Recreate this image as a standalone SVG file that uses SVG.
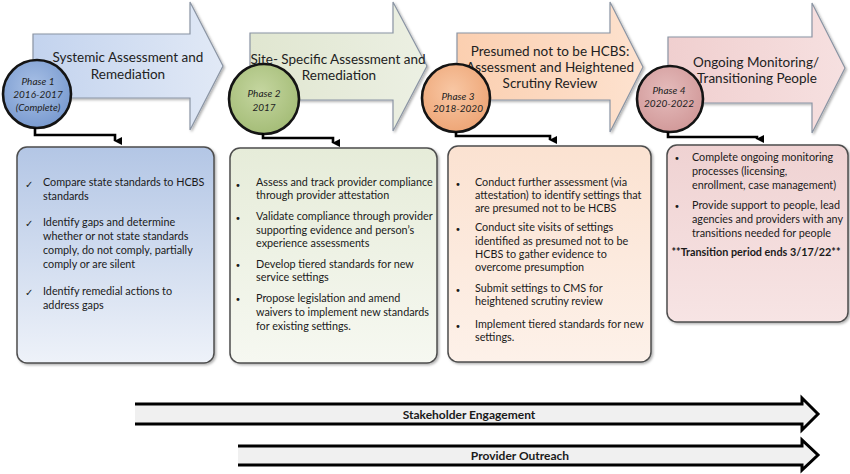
<svg xmlns="http://www.w3.org/2000/svg" width="850" height="474" viewBox="0 0 850 474">
<defs>
<linearGradient id="ga1" x1="0" y1="0" x2="1" y2="0"><stop offset="0" stop-color="#c3d3ee"/><stop offset="1" stop-color="#e1e9f6"/></linearGradient>
<linearGradient id="ga2" x1="0" y1="0" x2="1" y2="0"><stop offset="0" stop-color="#e0e6d0"/><stop offset="1" stop-color="#ecf0e3"/></linearGradient>
<linearGradient id="ga3" x1="0" y1="0" x2="1" y2="0"><stop offset="0" stop-color="#fbcfb0"/><stop offset="1" stop-color="#fde2cf"/></linearGradient>
<linearGradient id="ga4" x1="0" y1="0" x2="1" y2="0"><stop offset="0" stop-color="#f0cfcf"/><stop offset="1" stop-color="#f6e0e0"/></linearGradient>
<linearGradient id="gb1" x1="0" y1="0" x2="0" y2="1"><stop offset="0" stop-color="#b3c6e5"/><stop offset="1" stop-color="#eef2f9"/></linearGradient>
<linearGradient id="gb2" x1="0" y1="0" x2="0" y2="1"><stop offset="0" stop-color="#e6ecd9"/><stop offset="1" stop-color="#f6f8f1"/></linearGradient>
<linearGradient id="gb3" x1="0" y1="0" x2="0" y2="1"><stop offset="0" stop-color="#fbe2d1"/><stop offset="1" stop-color="#fdf1e9"/></linearGradient>
<linearGradient id="gb4" x1="0" y1="0" x2="0" y2="1"><stop offset="0" stop-color="#efd2d2"/><stop offset="1" stop-color="#f7e4e4"/></linearGradient>
<radialGradient id="gc1" cx="0.45" cy="0.4" r="0.6"><stop offset="0" stop-color="#a9c1e6"/><stop offset="1" stop-color="#7a9bd0"/></radialGradient>
<radialGradient id="gc2" cx="0.45" cy="0.4" r="0.6"><stop offset="0" stop-color="#c5d6a0"/><stop offset="1" stop-color="#a5bd78"/></radialGradient>
<radialGradient id="gc3" cx="0.45" cy="0.4" r="0.6"><stop offset="0" stop-color="#f8c7a4"/><stop offset="1" stop-color="#eea677"/></radialGradient>
<radialGradient id="gc4" cx="0.45" cy="0.4" r="0.6"><stop offset="0" stop-color="#e5bcbc"/><stop offset="1" stop-color="#d29a9a"/></radialGradient>
<filter id="sh" x="-5%" y="-5%" width="115%" height="115%"><feDropShadow dx="1.5" dy="1.5" stdDeviation="1.2" flood-color="#000" flood-opacity="0.3"/></filter>
<marker id="ah" markerWidth="8" markerHeight="8" refX="4" refY="7" orient="auto-start-reverse" markerUnits="userSpaceOnUse" viewBox="0 0 8 8"><path d="M0,0 L8,0 L4,8 Z" fill="#000"/></marker>
</defs>
<style>
.arrow{stroke:#8a94a3;stroke-width:1.2}
.box{stroke:#4d4d4d;stroke-width:1.5}
.circ{stroke:#141414;stroke-width:2.6}
.hd{font-family:Lato,"Open Sans",sans-serif;font-size:13.5px;fill:#222;text-anchor:middle}
.ph{font-family:Lato,"Open Sans",sans-serif;font-size:10px;font-style:italic;fill:#222;text-anchor:middle}
.tx{font-family:Lato,"Open Sans",sans-serif;font-size:10.8px;fill:#1a1a1a}
.bl{font-family:"DejaVu Sans",sans-serif;font-size:10px;fill:#1a1a1a}
.conn{fill:none;stroke:#000;stroke-width:2.6}
.band{fill:#f0f0f0}
.bandl{fill:none;stroke:#000;stroke-width:3;stroke-linejoin:miter}
.bt{font-family:Lato,"Open Sans",sans-serif;font-size:12px;font-weight:bold;fill:#1a1a1a;text-anchor:middle}
</style>

<g id="phase1">
<polygon class="arrow" fill="url(#ga1)" filter="url(#sh)" points="33,34 190,34 190,2 223,66 190,130 190,98 33,98"/>
<text class="hd" x="128" y="62">Systemic Assessment and</text>
<text class="hd" x="128" y="79">Remediation</text>
<circle class="circ" fill="url(#gc1)" cx="37" cy="94" r="34"/>
<text class="ph" x="38" y="85">Phase 1</text>
<text class="ph" x="38" y="98">2016-2017</text>
<text class="ph" x="38" y="111">(Complete)</text>
</g>

<g id="phase2">
<polygon class="arrow" fill="url(#ga2)" filter="url(#sh)" points="250,33 393,33 393,2 427,66 393,131 393,100 250,100"/>
<text class="hd" x="338" y="64">Site- Specific Assessment and</text>
<text class="hd" x="339" y="80">Remediation</text>
<circle class="circ" fill="url(#gc2)" cx="264" cy="99" r="35"/>
<text class="ph" x="264" y="97">Phase 2</text>
<text class="ph" x="264" y="111">2017</text>
</g>

<g id="phase3">
<polygon class="arrow" fill="url(#ga3)" filter="url(#sh)" points="457,33 610,33 610,2 643,67 610,132 610,100 457,100"/>
<text class="hd" x="550" y="56">Presumed not to be HCBS:</text>
<text class="hd" x="550" y="72">Assessment and Heightened</text>
<text class="hd" x="550" y="88">Scrutiny Review</text>
<circle class="circ" fill="url(#gc3)" cx="456" cy="98" r="34"/>
<text class="ph" x="458" y="100">Phase 3</text>
<text class="ph" x="458" y="112">2018-2020</text>
</g>

<g id="phase4">
<polygon class="arrow" fill="url(#ga4)" filter="url(#sh)" points="668,37 812,37 812,3 845,68 812,133 812,103 668,103"/>
<text class="hd" x="756" y="67">Ongoing Monitoring/</text>
<text class="hd" x="757" y="83">Transitioning People</text>
<circle class="circ" fill="url(#gc4)" cx="670" cy="99" r="33"/>
<text class="ph" x="669" y="94">Phase 4</text>
<text class="ph" x="669" y="107">2020-2022</text>
</g>

<g id="box1">
<rect class="box" fill="url(#gb1)" filter="url(#sh)" x="17" y="147" width="197" height="216" rx="10"/>
<g class="bl"><text x="25" y="188">✓</text><text x="25" y="227">✓</text><text x="25" y="296">✓</text></g>
<g class="tx">
<text x="43" y="186">Compare state standards to HCBS</text>
<text x="43" y="200">standards</text>
<text x="43" y="226">Identify gaps and determine</text>
<text x="43" y="240">whether or not state standards</text>
<text x="43" y="254">comply, do not comply, partially</text>
<text x="43" y="268">comply or are silent</text>
<text x="43" y="295">Identify remedial actions to</text>
<text x="43" y="309">address gaps</text>
</g>
</g>

<g id="box2">
<rect class="box" fill="url(#gb2)" filter="url(#sh)" x="230" y="148" width="207" height="215" rx="10"/>
<g class="bl"><text x="235" y="189">•</text><text x="235" y="222">•</text><text x="235" y="269">•</text><text x="235" y="303">•</text></g>
<g class="tx">
<text x="256" y="186">Assess and track provider compliance</text>
<text x="256" y="199">through provider attestation</text>
<text x="256" y="220">Validate compliance through provider</text>
<text x="256" y="234">supporting evidence and person’s</text>
<text x="256" y="247">experience assessments</text>
<text x="256" y="268">Develop tiered standards for new</text>
<text x="256" y="281">service settings</text>
<text x="256" y="302">Propose legislation and amend</text>
<text x="256" y="316">waivers to implement new standards</text>
<text x="256" y="330">for existing settings.</text>
</g>
</g>

<g id="box3">
<rect class="box" fill="url(#gb3)" filter="url(#sh)" x="448" y="146" width="203" height="216" rx="10"/>
<g class="bl"><text x="455" y="188">•</text><text x="455" y="233">•</text><text x="455" y="294">•</text><text x="455" y="330">•</text></g>
<g class="tx">
<text x="475" y="186">Conduct further assessment (via</text>
<text x="475" y="199">attestation) to identify settings that</text>
<text x="475" y="212">are presumed not to be HCBS</text>
<text x="475" y="231">Conduct site visits of settings</text>
<text x="475" y="245">identified as presumed not to be</text>
<text x="475" y="258">HCBS to gather evidence to</text>
<text x="475" y="271">overcome presumption</text>
<text x="475" y="292">Submit settings to CMS for</text>
<text x="475" y="305">heightened scrutiny review</text>
<text x="475" y="328">Implement tiered standards for new</text>
<text x="475" y="341">settings.</text>
</g>
</g>

<g id="box4">
<rect class="box" fill="url(#gb4)" filter="url(#sh)" x="667" y="145" width="181" height="177" rx="10"/>
<g class="bl"><text x="674" y="162">•</text><text x="674" y="210">•</text></g>
<g class="tx">
<text x="692" y="161">Complete ongoing monitoring</text>
<text x="692" y="175">processes (licensing,</text>
<text x="692" y="189">enrollment, case management)</text>
<text x="692" y="209">Provide support to people, lead</text>
<text x="692" y="223">agencies and providers with any</text>
<text x="692" y="237">transitions needed for people</text>
<text x="756" y="256" text-anchor="middle" font-weight="bold">**Transition period ends 3/17/22**</text>
</g>
</g>

<g id="connectors">
<polyline class="conn" points="35,128 35,135 115,135 115,141" marker-end="url(#ah)"/>
<polyline class="conn" points="263,133 263,138 333,138 333,143" marker-end="url(#ah)"/>
<polyline class="conn" points="456,132 456,136 550,136 550,140" marker-end="url(#ah)"/>
<polyline class="conn" points="668,132 668,137 757,137 757,139" marker-end="url(#ah)"/>
</g>

<g id="stakeholder">
<polygon class="band" points="135,404 802,404 802,398 818,414 802,430 802,424 135,424"/>
<polyline class="bandl" points="135,404 802,404 802,398 818,414 802,430 802,424 135,424"/>
<text class="bt" x="469" y="419">Stakeholder Engagement</text>
</g>

<g id="provider">
<polygon class="band" points="238,446 802,446 802,440 818,455 802,470 802,465 238,465"/>
<polyline class="bandl" points="238,446 802,446 802,440 818,455 802,470 802,465 238,465"/>
<text class="bt" x="520" y="460">Provider Outreach</text>
</g>
</svg>
